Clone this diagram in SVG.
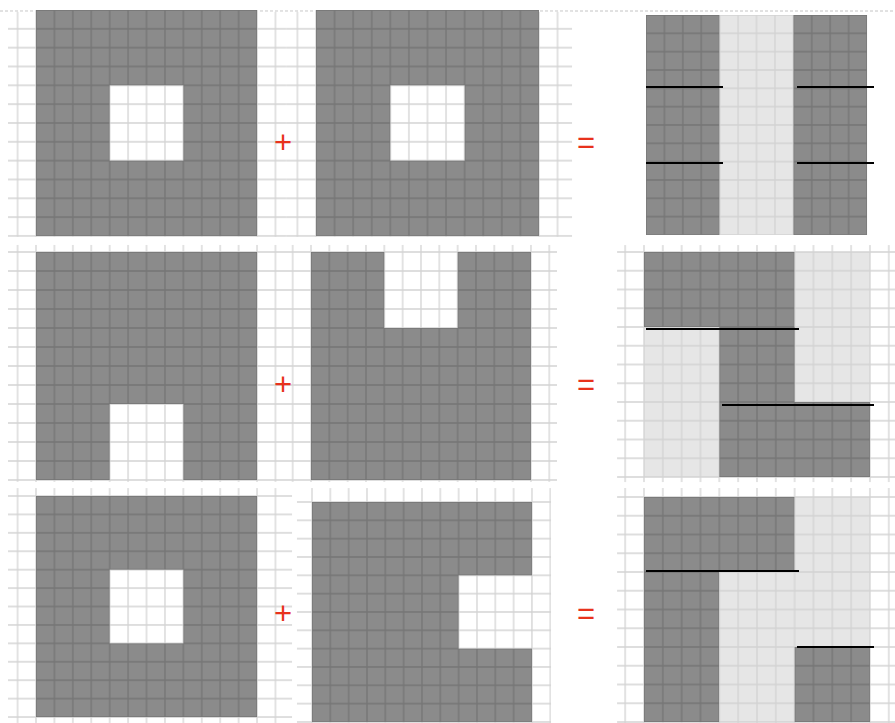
<svg xmlns="http://www.w3.org/2000/svg" width="895" height="723" viewBox="0 0 895 723">
<style>
.bg{fill:url(#gw)}
.dk{fill:url(#gd)}
.lt{fill:url(#gl)}
.cut{stroke:#000;stroke-width:2;fill:none}
.op{font-family:"Liberation Sans",Arial,sans-serif;font-size:31px;fill:#e8321c;text-anchor:middle}
</style>
<defs>
<pattern id="gw" width="1" height="1" patternUnits="userSpaceOnUse">
<rect width="1" height="1" fill="#fff"/>
<path d="M0 0H1M0 1H1M0 0V1M1 0V1" stroke="#d4d4d4" stroke-width="0.07" fill="none"/>
</pattern>
<pattern id="gd" width="1" height="1" patternUnits="userSpaceOnUse">
<rect width="1" height="1" fill="#8b8b8b"/>
<path d="M0 0H1M0 1H1M0 0V1M1 0V1" stroke="#757575" stroke-width="0.07" fill="none"/>
</pattern>
<pattern id="gl" width="1" height="1" patternUnits="userSpaceOnUse">
<rect width="1" height="1" fill="#e6e6e6"/>
<path d="M0 0H1M0 1H1M0 0V1M1 0V1" stroke="#d3d3d3" stroke-width="0.07" fill="none"/>
</pattern>
</defs>
<rect width="895" height="723" fill="#fff"/>
<path d="M0 11H895" stroke="#c4c4c4" stroke-width="1" stroke-dasharray="3 2"/>

<g id="p1" transform="translate(36,10) scale(18.42,18.83)">
<rect class="bg" x="-1.52" y="0.1" width="15.09" height="11.95"/>
<rect class="dk" x="0" y="0" width="12" height="12"/>
<rect class="bg" x="4" y="4" width="4" height="4"/>
</g>
<g id="p2" transform="translate(316,10) scale(18.58,18.83)">
<rect class="bg" x="-1.61" y="0.1" width="15.39" height="11.95"/>
<rect class="dk" x="0" y="0" width="12" height="12"/>
<rect class="bg" x="4" y="4" width="4" height="4"/>
</g>
<g id="p3">
<g transform="translate(646,15) scale(18.42,18.33)">
<rect class="dk" x="0" y="0" width="4" height="12"/>
<rect class="lt" x="4" y="0" width="4" height="12"/>
<rect class="dk" x="8" y="0" width="4" height="12"/>
</g>
<path class="cut" d="M646 87H723M797 87H874M646 163H723M797 163H874"/>
</g>

<g id="p4" transform="translate(36,252) scale(18.42,19)">
<rect class="bg" x="-1.52" y="-0.37" width="15.31" height="12.47"/>
<rect class="dk" x="0" y="0" width="12" height="12"/>
<rect class="bg" x="4" y="8" width="4" height="4"/>
</g>
<g id="p5" transform="translate(311,252) scale(18.33,19)">
<rect class="bg" x="-1.15" y="-0.37" width="14.57" height="12.47"/>
<rect class="dk" x="0" y="0" width="12" height="12"/>
<rect class="bg" x="4" y="0" width="4" height="4"/>
</g>
<g id="p6">
<g transform="translate(644,252) scale(18.83,18.75)">
<rect class="bg" x="-1.43" y="-0.37" width="14.76" height="12.64"/>
<rect class="dk" x="0" y="0" width="8" height="4"/>
<rect class="lt" x="8" y="0" width="4" height="8"/>
<rect class="lt" x="0" y="4" width="4" height="8"/>
<rect class="dk" x="4" y="4" width="4" height="4"/>
<rect class="dk" x="4" y="8" width="8" height="4"/>
</g>
<path class="cut" d="M646 329H799M722 405H874"/>
</g>

<g id="p7" transform="translate(36,496) scale(18.42,18.42)">
<rect class="bg" x="-1.52" y="-0.43" width="15.42" height="12.75"/>
<rect class="dk" x="0" y="0" width="12" height="12"/>
<rect class="bg" x="4" y="4" width="4" height="4"/>
</g>
<g id="p8" transform="translate(312,502) scale(18.33,18.33)">
<rect class="bg" x="-0.82" y="-0.76" width="13.86" height="12.9"/>
<rect class="dk" x="0" y="0" width="12" height="12"/>
<rect class="bg" x="8" y="4" width="4" height="4"/>
</g>
<g id="p9">
<g transform="translate(644,497) scale(18.83,18.75)">
<rect class="bg" x="-1.43" y="-0.48" width="14.76" height="12.6"/>
<rect class="dk" x="0" y="0" width="8" height="4"/>
<rect class="dk" x="0" y="4" width="4" height="8"/>
<rect class="lt" x="4" y="4" width="4" height="8"/>
<rect class="lt" x="8" y="0" width="4" height="8"/>
<rect class="dk" x="8" y="8" width="4" height="4"/>
</g>
<path class="cut" d="M646 571H799M797 647H874"/>
</g>

<g id="ops">
<text class="op" x="283" y="153">+</text>
<text class="op" x="586" y="153">=</text>
<text class="op" x="283" y="395">+</text>
<text class="op" x="586" y="395">=</text>
<text class="op" x="283" y="624">+</text>
<text class="op" x="586" y="624">=</text>
</g>
</svg>
